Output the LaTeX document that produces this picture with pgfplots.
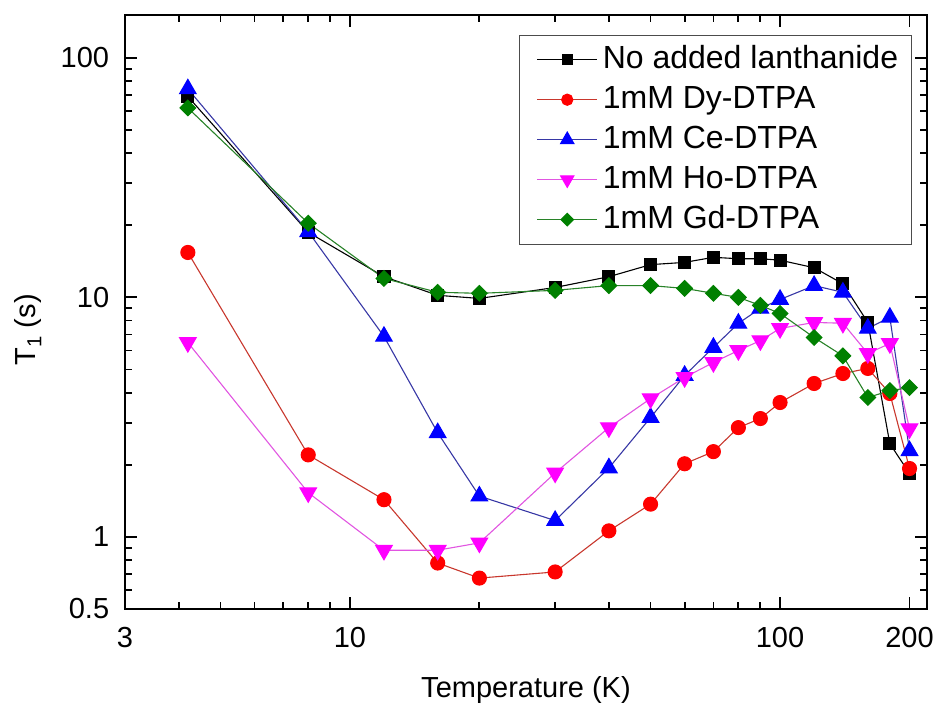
\documentclass[border=0pt]{standalone}
\usepackage{pgfplots}
\pgfplotsset{compat=1.18}
\usepackage{fontspec}
\setmainfont{Liberation Sans}
\definecolor{grn}{RGB}{0,128,0}
\definecolor{mag}{RGB}{255,0,255}
\definecolor{blu}{RGB}{0,0,255}
\definecolor{rd}{RGB}{255,0,0}
\definecolor{lred}{RGB}{200,55,45}
\definecolor{lblue}{RGB}{55,55,165}
\definecolor{lmag}{RGB}{225,85,225}
\definecolor{lgrn}{RGB}{40,130,40}
\begin{document}
\fontsize{29}{35}\selectfont
\begin{tikzpicture}
\begin{axis}[
 at={(0,0)}, anchor=south west,
 scale only axis, width=802pt, height=594pt,
 xmode=log, ymode=log,
 xmin=3, xmax=219.6, ymin=0.5, ymax=151,
 xtick={3,10,100,200}, xticklabels={3,10,100,200},
 ytick={0.5,1,10,100}, yticklabels={0.5,1,10,100},
 minor xtick={4,5,6,7,8,9,20,30,40,50,60,70,80,90},
 minor ytick={0.6,0.7,0.8,0.9,2,3,4,5,6,7,8,9,20,30,40,50,60,70,80,90},
 tick align=inside,
 major tick length=12pt, minor tick length=7pt,
 every tick/.style={black, line width=1.8pt},
 axis line style={line width=2.2pt},
 /pgf/number format/assume math mode=true,
 tick label style={font=\fontsize{29}{35}\selectfont},
 xticklabel style={yshift=-8pt},
 yticklabel style={xshift=-6pt},
 label style={font=\fontsize{29}{35}\selectfont},
 xlabel={Temperature (K)},
 ylabel={T\textsubscript{1} (s)},
 xlabel style={at={(axis description cs:0.5,-0.1498)}, anchor=base},
 ylabel style={at={(axis description cs:-0.111,0.4697)}, anchor=base},
 legend style={at={(0.981,0.967)}, anchor=north east, draw=black!70, line width=1.2pt, fill=white,
   font=\fontsize{32}{38}\selectfont, inner xsep=8pt, inner ysep=5pt, row sep=1pt,
   nodes={inner xsep=5pt, inner ysep=0pt, text height=28pt, text depth=11pt}},
 legend cell align=left,
 legend image code/.code={\path (-9pt,0pt); \draw[mark repeat=2,mark phase=2,every mark/.append style={scale=0.8}] plot coordinates {(0pt,0pt) (30pt,0pt) (60pt,0pt)};},
]
\addplot[black, line width=1.1pt, mark=square*, mark size=6pt, mark options={solid, fill=black, draw=black}] coordinates {
(4.2,69) (8,18.7) (12,12.2) (16,10.2) (20,9.9) (30,11.0) (40,12.2) (50,13.7) (60,14.0) (70,14.7) (80,14.5) (90,14.5) (100,14.3) (120,13.3) (140,11.4) (160,7.86) (180,2.45) (200,1.84)};
\addlegendentry{No added lanthanide}
\addplot[lred, line width=1.1pt, mark=*, mark size=7pt, mark options={solid, fill=rd, draw=rd}] coordinates {
(4.2,15.4) (8,2.20) (12,1.43) (16,0.778) (20,0.673) (30,0.714) (40,1.06) (50,1.37) (60,2.02) (70,2.27) (80,2.86) (90,3.12) (100,3.64) (120,4.37) (140,4.81) (160,5.05) (180,3.97) (200,1.93)};
\addlegendentry{1mM Dy-DTPA}
\addplot[lblue, line width=1.1pt, mark=triangle*, mark size=9.5pt, mark options={solid, fill=blu, draw=blu}] coordinates {
(4.2,74.2) (8,18.8) (12,6.87) (16,2.72) (20,1.48) (30,1.17) (40,1.94) (50,3.15) (60,4.72) (70,6.18) (80,7.79) (90,9.0) (100,9.8) (120,11.2) (140,10.5) (160,7.42) (180,8.25) (200,2.29)};
\addlegendentry{1mM Ce-DTPA}
\addplot[lmag, line width=1.1pt, mark=triangle*, mark size=9.5pt, mark options={solid, rotate=180, fill=mag, draw=mag}] coordinates {
(4.2,6.48) (8,1.53) (12,0.88) (16,0.88) (20,0.944) (30,1.85) (40,2.86) (50,3.78) (60,4.63) (70,5.35) (80,6.0) (90,6.6) (100,7.42) (120,7.86) (140,7.8) (160,5.83) (180,6.42) (200,2.83)};
\addlegendentry{1mM Ho-DTPA}
\addplot[lgrn, line width=1.1pt, mark=square*, mark size=5.5pt, mark options={solid, rotate=45, fill=grn, draw=grn}] coordinates {
(4.2,61.8) (8,20.4) (12,12.0) (16,10.5) (20,10.4) (30,10.7) (40,11.2) (50,11.2) (60,10.9) (70,10.4) (80,10.0) (90,9.26) (100,8.57) (120,6.8) (140,5.7) (160,3.82) (180,4.08) (200,4.2)};
\addlegendentry{1mM Gd-DTPA}
\end{axis}
\pgfresetboundingbox
\path[use as bounding box] (-125pt,-96pt) rectangle (813pt,609pt);
\end{tikzpicture}
\end{document}
